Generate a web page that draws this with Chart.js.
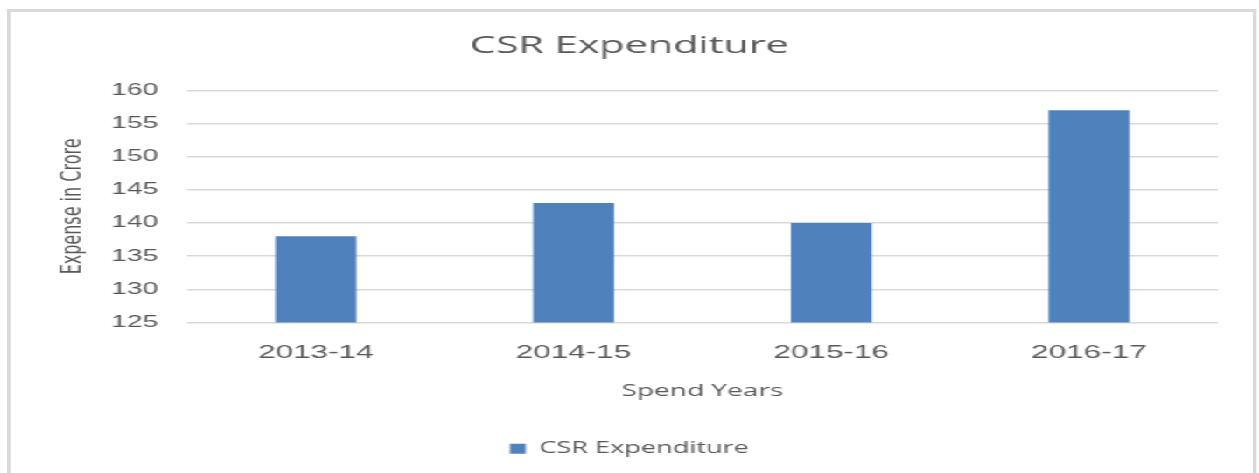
<!DOCTYPE html>
<html>
<head>
<meta charset="utf-8">
<script src="https://cdn.jsdelivr.net/npm/chart.js@4"></script>
<style>
  html, body { margin: 0; padding: 0; background: #fff; overflow: hidden; }
  /* the reference picture is stretched sideways, so the chart is drawn narrow and scaled out */
  #stage {
    position: absolute; left: 0; top: 0;
    width: 719.43px; height: 473px;
    transform: scaleX(1.75); transform-origin: 0 0;
  }
  #frame {
    position: absolute; left: 4.2px; top: 9.3px;
    width: 714px; height: 520px; box-sizing: border-box;
    border-top: 3px solid #d9d9d9;
    border-left: 2px solid #d9d9d9;
    border-right: 2px solid #d9d9d9;
    pointer-events: none;
  }
  #stage canvas { position: absolute; left: 0; top: 0; }
</style>
</head>
<body>
<div id="stage">
  <canvas id="myChart"></canvas>
  <div id="frame"></div>
</div>
<script>
const years = ['2013-14', '2014-15', '2015-16', '2016-17'];
const expense = [138, 143, 140, 157];
const yTicks = [125, 130, 135, 140, 145, 150, 155, 160];

const grey = '#595959';
const ctx = document.getElementById('myChart');

new Chart(ctx, {
    type: 'bar',
    data: {
        labels: years,
        datasets: [{
            label: 'CSR Expenditure',
            data: expense,
            backgroundColor: '#4f81bd',
            borderWidth: 0,
            categoryPercentage: 0.314,
            barPercentage: 1
        }]
    },
    options: {
        responsive: true,
        maintainAspectRatio: false,
        animation: false,
        layout: {
            // same on both sides so title and legend stay centred on the frame
            padding: { left: 23.4, right: 23.4, top: 0, bottom: 6.5 }
        },
        plugins: {
            title: {
                display: true,
                text: 'CSR Expenditure',
                color: grey,
                font: { family: 'Open Sans', size: 23.6, weight: 'normal' },
                padding: { top: 32, bottom: 30 }
            },
            legend: {
                position: 'bottom',
                labels: {
                    color: grey,
                    boxWidth: 9,
                    boxHeight: 10,
                    padding: 10,
                    font: { family: 'Open Sans', size: 15.5 }
                }
            },
            tooltip: { enabled: false }
        },
        scales: {
            x: {
                grid: { display: false, drawTicks: false },
                border: { display: false },
                ticks: {
                    color: grey,
                    padding: 20,
                    font: { family: 'Liberation Sans', size: 18 }
                },
                title: {
                    display: true,
                    text: 'Spend Years',
                    color: grey,
                    font: { family: 'Open Sans', size: 16 },
                    padding: { top: 0, bottom: 30 }
                },
                afterFit(scale) { scale.height = 108.5; }
            },
            y: {
                min: 125,
                max: 160,
                grid: { color: '#d9d9d9', lineWidth: 1.5, drawTicks: false },
                border: { display: false },
                afterBuildTicks(scale) {
                    scale.ticks = yTicks.map(v => ({ value: v }));
                },
                ticks: {
                    color: grey,
                    padding: 16.6,
                    font: { family: 'Liberation Sans', size: 16 }
                },
                title: {
                    display: true,
                    text: 'Expense in Crore',
                    color: grey,
                    font: { family: 'DejaVu Sans', size: 16 },
                    padding: { top: 9.3, bottom: 0 }
                },
                afterFit(scale) { scale.width = 83.5; }
            }
        }
    }
});
</script>
</body>
</html>
